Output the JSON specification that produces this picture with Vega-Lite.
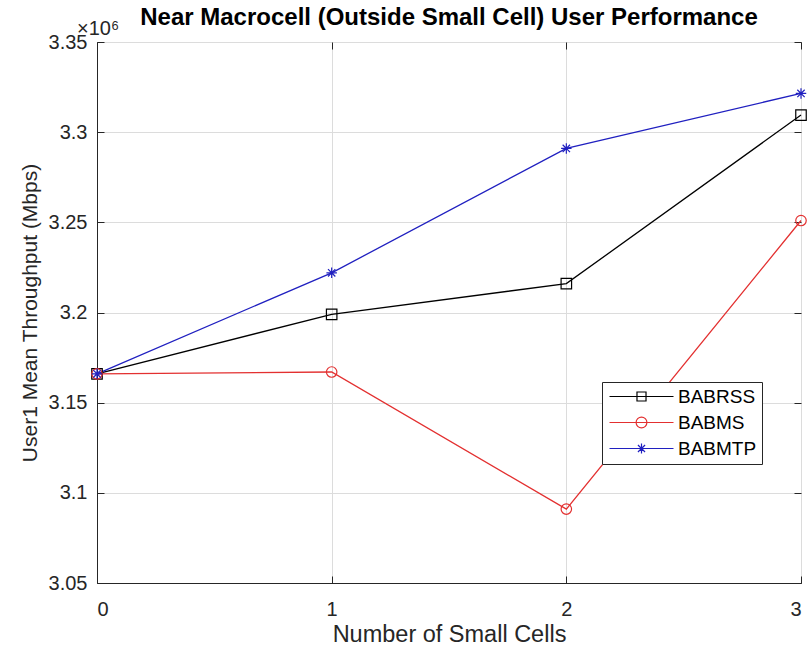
{
  "$schema": "https://vega.github.io/schema/vega-lite/v6.json",
  "width": 704,
  "height": 541,
  "autosize": {"type": "none"},
  "padding": {"left": 97, "top": 42, "right": 9, "bottom": 65},
  "background": "white",
  "config": {
    "font": "Liberation Sans",
    "view": {"stroke": "#262626", "strokeWidth": 1},
    "axis": {
      "labelFont": "Liberation Sans", "labelFontSize": 20, "labelColor": "#262626",
      "titleFont": "Liberation Sans", "titleFontSize": 21, "titleFontWeight": "normal", "titleColor": "#262626",
      "domainColor": "#262626", "tickColor": "#262626", "tickSize": -7,
      "gridColor": "#dcdcdc", "gridOpacity": 1
    },
    "legend": {
      "orient": "none", "legendX": 505, "legendY": 340,
      "strokeColor": "#262626", "fillColor": "white", "padding": 5,
      "symbolSize": 256, "symbolOpacity": 1, "labelFontSize": 19, "labelFont": "Liberation Sans", "labelColor": "#000000",
      "labelOffset": 52, "rowPadding": 6, "symbolStrokeWidth": 1.2
    }
  },
  "title": {
    "text": "Near Macrocell (Outside Small Cell) User Performance",
    "fontSize": 24, "fontWeight": "bold", "font": "Liberation Sans", "color": "#000000",
    "anchor": "middle", "baseline": "alphabetic", "offset": 0, "dy": 30, "frame": "group"
  },
  "data": {
    "values": [
      {"cells": 0, "series": "BABRSS", "throughput": 3166000},
      {"cells": 1, "series": "BABRSS", "throughput": 3199000},
      {"cells": 2, "series": "BABRSS", "throughput": 3216000},
      {"cells": 3, "series": "BABRSS", "throughput": 3309500},
      {"cells": 0, "series": "BABMS", "throughput": 3166000},
      {"cells": 1, "series": "BABMS", "throughput": 3167000},
      {"cells": 2, "series": "BABMS", "throughput": 3091000},
      {"cells": 3, "series": "BABMS", "throughput": 3251000},
      {"cells": 0, "series": "BABMTP", "throughput": 3166000},
      {"cells": 1, "series": "BABMTP", "throughput": 3222000},
      {"cells": 2, "series": "BABMTP", "throughput": 3291000},
      {"cells": 3, "series": "BABMTP", "throughput": 3321500}
    ]
  },
  "resolve": {"axis": {"x": "independent", "y": "independent"}, "scale": {"shape": "independent"}},
  "layer": [
    {
      "mark": {"type": "line", "strokeWidth": 1.3},
      "encoding": {
        "x": {
          "field": "cells", "type": "quantitative",
          "scale": {"domain": [0, 3], "nice": false, "zero": false},
          "axis": {"orient": "bottom", "values": [0, 1, 2, 3], "title": "Number of Small Cells", "titleFontSize": 23.5, "grid": true, "labelPadding": 23, "titlePadding": 3}
        },
        "y": {
          "field": "throughput", "type": "quantitative",
          "scale": {"domain": [3050000, 3350000], "nice": false, "zero": false},
          "axis": {"orient": "left", "values": [3050000, 3100000, 3150000, 3200000, 3250000, 3300000, 3350000], "labelExpr": "format(datum.value / 1000000, '.2~f')", "title": "User1 Mean Throughput (Mbps)", "titleFontSize": 21, "grid": true, "labelPadding": 17, "titlePadding": 8}
        },
        "stroke": {
          "field": "series", "type": "nominal",
          "scale": {"domain": ["BABRSS", "BABMS", "BABMTP"], "range": ["#000000", "#e33030", "#2020c0"]},
          "legend": null
        }
      }
    },
    {
      "mark": {"type": "point", "filled": false, "strokeWidth": 1.2, "size": 110, "opacity": 1},
      "encoding": {
        "x": {
          "field": "cells", "type": "quantitative",
          "axis": {"orient": "top", "values": [0, 1, 2, 3], "labels": false, "title": null, "grid": false, "domain": false}
        },
        "y": {
          "field": "throughput", "type": "quantitative",
          "axis": {"orient": "right", "values": [3050000, 3100000, 3150000, 3200000, 3250000, 3300000, 3350000], "labels": false, "title": null, "grid": false, "domain": false}
        },
        "stroke": {"field": "series", "type": "nominal", "legend": null},
        "shape": {
          "field": "series", "type": "nominal",
          "scale": {"domain": ["BABRSS", "BABMS", "BABMTP"], "range": ["square", "circle", "M-1,0H1M0,-1V1M-0.7,-0.7L0.7,0.7M-0.7,0.7L0.7,-0.7"]},
          "legend": null
        }
      }
    },
    {
      "mark": {"type": "point", "filled": false, "opacity": 0, "size": 1},
      "encoding": {
        "x": {"field": "cells", "type": "quantitative", "axis": null},
        "y": {"field": "throughput", "type": "quantitative", "axis": null},
        "shape": {
          "field": "series", "type": "nominal",
          "scale": {"domain": ["BABRSS", "BABMS", "BABMTP"], "range": ["M-0.875,0H7.125M2.56,-0.56H3.69V0.56H2.56Z", "M-0.875,0H7.125M2.45,0A0.675,0.675 0 1,1 3.8,0A0.675,0.675 0 1,1 2.45,0", "M-0.875,0H7.125M2.5,0H3.75M3.125,-0.625V0.625M2.68,-0.44L3.57,0.44M2.68,0.44L3.57,-0.44"]},
          "legend": {
            "title": null,
            "symbolFillColor": "transparent",
            "symbolStrokeColor": {"expr": "datum.value === 'BABRSS' ? '#000000' : datum.value === 'BABMS' ? '#e33030' : '#2020c0'"}
          }
        }
      }
    },
    {
      "data": {"values": [{"label": "×10⁶", "x": 0, "y": 3350000}]},
      "mark": {"type": "text", "align": "left", "baseline": "bottom", "dx": -20, "dy": -3, "fontSize": 20, "font": "Liberation Sans", "color": "#262626"},
      "encoding": {
        "x": {"field": "x", "type": "quantitative", "axis": null},
        "y": {"field": "y", "type": "quantitative", "axis": null},
        "text": {"field": "label"}
      }
    }
  ]
}
